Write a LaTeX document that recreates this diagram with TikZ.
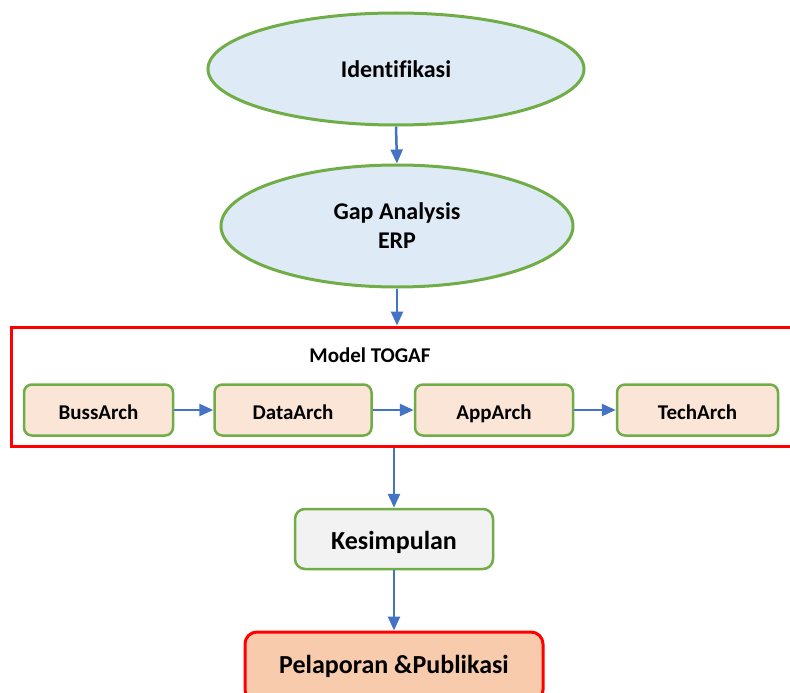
\documentclass[tikz,border=0pt]{standalone}
\usepackage{fontspec}
\setmainfont{Carlito}[Ligatures=NoCommon]
\usetikzlibrary{shapes.geometric,arrows.meta}
\definecolor{olgreen}{HTML}{70AD47}
\definecolor{olblue}{HTML}{4472C4}
\definecolor{lightblue}{HTML}{DEEBF7}
\definecolor{peach}{HTML}{FBE5D6}
\definecolor{salmon}{HTML}{F8CBAD}
\definecolor{lightgray}{HTML}{F2F2F2}
\tikzset{
  x=1pt, y=-1pt,
  oval/.style={ellipse, draw=olgreen, line width=3pt, fill=lightblue, inner sep=0pt,
    font=\fontsize{24}{29}\selectfont\bfseries, align=center},
  archbox/.style={draw=olgreen, line width=2.5pt, fill=peach, rounded corners=8pt,
    minimum height=51pt, inner sep=0pt, text height=18pt, text depth=0pt,
    font=\fontsize{21}{24}\selectfont\bfseries},
  flow/.style={draw=olblue, line width=2.5pt, -{Triangle[width=12pt,length=14pt]}},
}
\begin{document}
\begin{tikzpicture}
\useasboundingbox (0,0) rectangle (790,693);
\clip (0,0) rectangle (790,693);
\fill[white] (0,0) rectangle (790,693);

% top ellipses
\node[oval, minimum width=376pt, minimum height=112pt] (ident) at (396,69) {Identifikasi};
\node[oval, minimum width=352pt, minimum height=122pt] (gap) at (397,226) {Gap Analysis\\ERP};

% TOGAF frame
\node[draw=red, line width=3pt, minimum width=786pt, minimum height=119pt, inner sep=0pt] (togaf) at (404,386.5) {};
\node[font=\fontsize{21}{25}\selectfont\bfseries] (title) at (370,355) {Model TOGAF};

% architecture phases
\node[archbox, minimum width=149pt] (buss) at (98.5,410) {BussArch};
\node[archbox, minimum width=157pt] (data) at (293,410) {DataArch};
\node[archbox, minimum width=158pt] (app) at (494,410) {AppArch};
\node[archbox, minimum width=161pt] (tech) at (697.5,410) {TechArch};

% conclusion and reporting
\node[draw=olgreen, line width=2.5pt, fill=lightgray, rounded corners=10pt,
  minimum width=198pt, minimum height=60pt, inner sep=0pt, text height=20pt, text depth=0pt,
  font=\fontsize{26}{30}\selectfont\bfseries] (kes) at (394,539) {Kesimpulan};
\node[draw=red, line width=3pt, fill=salmon, rounded corners=12pt,
  minimum width=298pt, minimum height=70pt, inner sep=0pt, text height=16pt, text depth=4pt,
  font=\fontsize{26}{30}\selectfont\bfseries] (pel) at (394,667) {Pelaporan \&Publikasi};

% connectors
\draw[flow] (ident.south) -- (gap.north);
\draw[flow] (gap.south) -- (gap.south |- togaf.north);
\draw[flow] (buss.east) -- (data.west);
\draw[flow] (data.east) -- (app.west);
\draw[flow] (app.east) -- (tech.west);
\draw[flow] (togaf.south -| kes.north) -- (kes.north);
\draw[flow] (kes.south) -- (pel.north);
\end{tikzpicture}
\end{document}
